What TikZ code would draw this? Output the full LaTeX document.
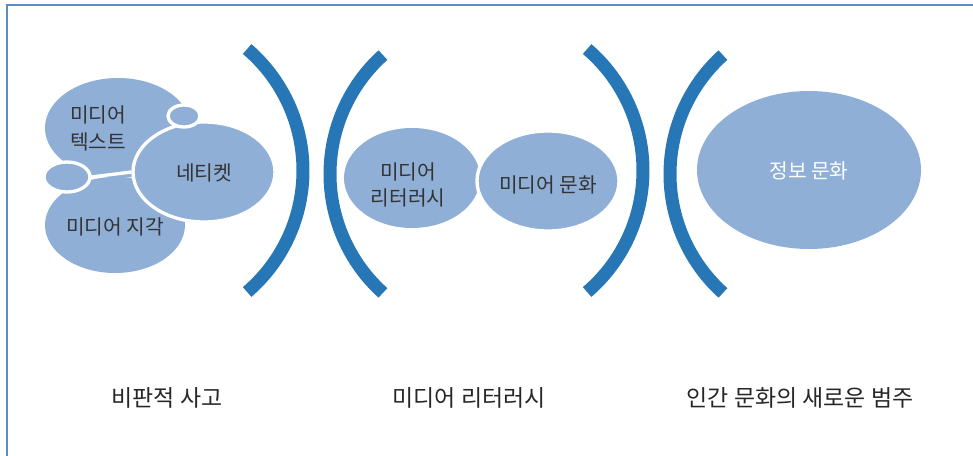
\documentclass[tikz,border=0pt]{standalone}
\usepackage{fontspec}
\setmainfont{Noto Sans CJK KR}
\usetikzlibrary{shapes.geometric}
\definecolor{ellfill}{HTML}{8FAFD6}
\definecolor{arcblue}{HTML}{2777B7}
\definecolor{framecol}{HTML}{5B8CC8}
\definecolor{txt}{HTML}{333333}
\begin{document}
\begin{tikzpicture}[x=0.75pt,y=-0.75pt,
  ell/.style 2 args={ellipse, fill=ellfill, inner sep=0pt, minimum width=#1*0.75pt, minimum height=#2*0.75pt},
  wb/.style={draw=white, line width=2.5pt},
  lbl/.style={text=txt, font=\fontsize{15.2}{20}\selectfont, align=center, inner sep=0pt},
  bot/.style={text=black!85, font=\fontsize{17.2}{20}\selectfont, inner sep=0pt},
  brk/.style={draw=arcblue, line width=9.75pt}]
\useasboundingbox (0,0) rectangle (973,456);
\draw[framecol, line width=1.1pt] (7,456) -- (7,5) -- (973,5);

% brackets
\coordinate (c1) at (143,170.5);
\coordinate (c2) at (490,174);
\coordinate (c3) at (483,170.5);
\coordinate (c4) at (830,174);
\draw[brk] (c1) ++(-49.4:160) arc[start angle=-49.4, end angle=49.4, radius=160];
\draw[brk] (c2) ++(132:160) arc[start angle=132, end angle=228, radius=160];
\draw[brk] (c3) ++(-49.4:160) arc[start angle=-49.4, end angle=49.4, radius=160];
\draw[brk] (c4) ++(132:160) arc[start angle=132, end angle=228, radius=160];

% left cluster
\node[ell={146}{100}] (mt) at (118,128) {};
\node[ell={140}{96}] (mj) at (115,225) {};
\node[ell={142}{100}, wb] (net) at (204,172) {};
\node[ell={32}{22}, wb] (tc) at (184,116) {};
\node[ell={46}{30}, wb] (lc) at (67,177) {};
\draw[white, line width=2.5pt] (lc.east) -- (net.west);

\node[lbl] (tmt) at (98,128.5) {미디어\\텍스트};
\node[lbl] (tmj) at (115,227) {미디어 지각};
\node[lbl] (tnet) at (204,173) {네티켓};

% middle
\node[ell={136}{100}] (mlit) at (412,178) {};
\node[ell={142}{100}, wb] (mcul) at (548,181) {};
\node[lbl] (tmlit) at (408,185) {미디어\\리터러시};
\node[lbl] (tmcul) at (548,185) {미디어 문화};

% right
\node[ell={224}{158}] (info) at (809,170) {};
\node[lbl, text=white] (tinfo) at (809,171) {정보 문화};

% bottom labels
\node[bot] (b1) at (167,398) {비판적 사고};
\node[bot] (b2) at (469,398) {미디어 리터러시};
\node[bot] (b3) at (800,398) {인간 문화의 새로운 범주};
\end{tikzpicture}
\end{document}
